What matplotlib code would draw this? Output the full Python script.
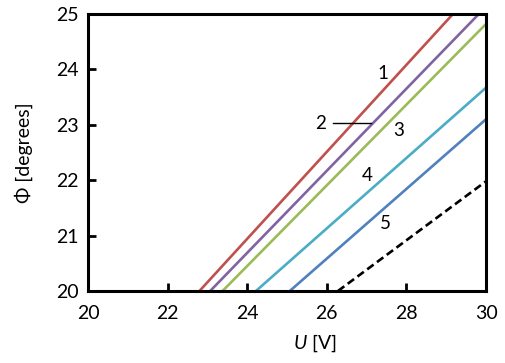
import numpy as np
import matplotlib
matplotlib.use('Agg')
import matplotlib.pyplot as plt

plt.rcParams['font.family'] = ['Lato', 'DejaVu Sans']
plt.rcParams['mathtext.fontset'] = 'custom'
plt.rcParams['mathtext.rm'] = 'Lato'
plt.rcParams['mathtext.it'] = 'Lato:italic'

# --- Phase vs. voltage curves (start and end points of each straight line)
u_start   = [22.80, 23.07, 23.38, 24.22, 25.07, 26.28]
phi_start = [20.0, 20.0, 20.0, 20.0, 20.0, 20.0]
u_end     = [29.17, 29.82, 30.0, 30.0, 30.0, 30.0]
phi_end   = [25.0, 25.0, 24.82, 23.67, 23.10, 21.98]
colors    = ['#C0504D', '#8064A2', '#9BBB59', '#4BACC6', '#4F81BD', 'black']
styles    = ['-', '-', '-', '-', '-', '--']

# --- curve numbers
label_text = ['1', '2', '3', '4', '5']
label_u    = [27.41, 25.85, 27.81, 27.01, 27.46]
label_phi  = [23.93, 23.03, 22.90, 22.09, 21.21]

xticks = [20, 22, 24, 26, 28, 30]
yticks = [20, 21, 22, 23, 24, 25]

fig = plt.figure(figsize=(5.06, 3.63), dpi=100)
ax = fig.add_axes([88/506, 1-291/363, 398/506, 277/363])

for i in range(len(u_start)):
    ax.plot([u_start[i], u_end[i]], [phi_start[i], phi_end[i]],
            color=colors[i], linestyle=styles[i], lw=1.9,
            dashes=(3, 1.6) if styles[i] == '--' else (None, None),
            solid_capstyle='butt', clip_on=False)

for t, u, p in zip(label_text, label_u, label_phi):
    ax.text(u, p, t, fontsize=13.5, ha='center', va='center')

# leader line for curve 2
ax.plot([26.16, 27.12], [23.03, 23.03], color='black', lw=1.0)

ax.set_xlim(20, 30)
ax.set_ylim(20, 25)
ax.set_xticks(xticks)
ax.set_yticks(yticks)
ax.tick_params(direction='in', length=6, width=2, labelsize=14, pad=10)
ax.tick_params(axis='y', pad=7)
for s in ax.spines.values():
    s.set_linewidth(2.2)

ax.set_ylabel('Φ [degrees]', fontsize=14, labelpad=16)
ax.text(0.57, -0.19, r'$U$ [V]', transform=ax.transAxes,
        fontsize=14, ha='center', va='center')

fig.savefig('out.png', dpi=100)
